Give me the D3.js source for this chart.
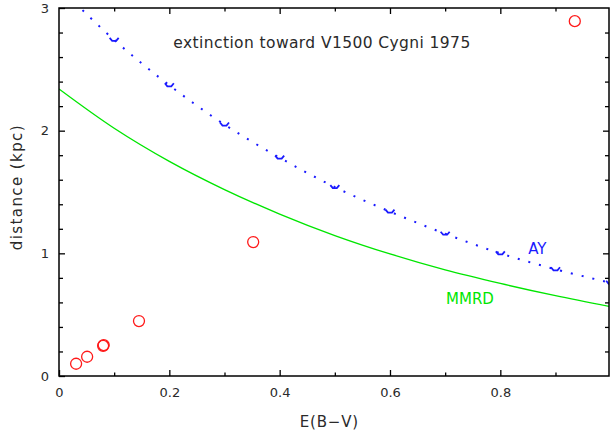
<!DOCTYPE html>
<html>
<head>
<meta charset="utf-8">
<script src="https://cdn.jsdelivr.net/npm/d3@7"></script>
<style>
  body { margin: 0; background: #fff; }
  text { font-family: "DejaVu Sans", sans-serif; fill: #2a2a2a; }
</style>
</head>
<body>
<div id="chart"></div>
<script>
// observed colour excess vs distance (red circles)
var obsEbv  = [0.031, 0.051, 0.080, 0.081, 0.145, 0.352, 0.935];
var obsDist = [0.10, 0.157, 0.246, 0.252, 0.448, 1.092, 2.893];

// AY extinction relation (blue dotted, markers every 0.1)
var ayEbv  = [0, 0.1, 0.2, 0.3, 0.4, 0.5, 0.6, 0.7, 0.8, 0.9, 1.0];
var ayDist = [3.17, 2.74, 2.37, 2.05, 1.78, 1.54, 1.34, 1.16, 1.00, 0.87, 0.76];

// MMRD relation (green)
var mmrdEbv  = [0, 0.1, 0.2, 0.3, 0.4, 0.5, 0.6, 0.7, 0.8, 0.9, 1.0];
var mmrdDist = [2.34, 2.02, 1.75, 1.52, 1.32, 1.145, 0.995, 0.865, 0.755, 0.655, 0.565];

var xMajor = [0, 0.2, 0.4, 0.6, 0.8];
var xMinor = [0.1, 0.3, 0.5, 0.7, 0.9];
var yMajor = [0, 1, 2, 3];
var yMinor = [0.2, 0.4, 0.6, 0.8, 1.2, 1.4, 1.6, 1.8, 2.2, 2.4, 2.6, 2.8];

var margin = {top: 8, right: 1, bottom: 63, left: 59},
    width = 610 - margin.left - margin.right,
    height = 439 - margin.top - margin.bottom;

var svg = d3.select("#chart").append("svg")
    .attr("width", 610)
    .attr("height", 439);

var g = svg.append("g")
    .attr("transform", "translate(" + margin.left + "," + margin.top + ")");

var x = d3.scaleLinear().domain([0, 0.997]).range([0, width]);
var y = d3.scaleLinear().domain([0, 3]).range([height, 0]);

g.append("clipPath").attr("id", "clip")
  .append("rect").attr("width", width).attr("height", height);

var plot = g.append("g").attr("clip-path", "url(#clip)");

// MMRD curve
var mmrd = mmrdEbv.map((e, i) => [e, mmrdDist[i]]);
plot.append("path")
    .datum(mmrd)
    .attr("fill", "none")
    .attr("stroke", "#00e600")
    .attr("stroke-width", 1.4)
    .attr("d", d3.line().x(d => x(d[0])).y(d => y(d[1])).curve(d3.curveCatmullRom));

// AY dotted curve
var ay = ayEbv.map((e, i) => [e, ayDist[i]]);
plot.append("path")
    .datum(ay)
    .attr("fill", "none")
    .attr("stroke", "#1a1aff")
    .attr("stroke-width", 2)
    .attr("stroke-dasharray", "2,9")
    .attr("d", d3.line().x(d => x(d[0])).y(d => y(d[1])).curve(d3.curveCatmullRom));

plot.selectAll(".aymark")
    .data(ay.slice(1))
    .join("path")
    .attr("class", "aymark")
    .attr("transform", d => "translate(" + x(d[0]) + "," + y(d[1]) + ")")
    .attr("d", "M-4.5,-2 L-2,1 L2,1 L4.5,-2")
    .attr("fill", "none")
    .attr("stroke", "#1a1aff")
    .attr("stroke-width", 1.8);

// observations
plot.selectAll("circle")
    .data(obsEbv.map((e, i) => [e, obsDist[i]]))
    .join("circle")
    .attr("cx", d => x(d[0]))
    .attr("cy", d => y(d[1]))
    .attr("r", 5.5)
    .attr("fill", "none")
    .attr("stroke", "#ff1a1a")
    .attr("stroke-width", 1.3);

// curve labels
g.append("text")
    .attr("x", x(0.867)).attr("y", y(0.994))
    .attr("text-anchor", "middle")
    .style("font-size", "15px")
    .style("fill", "#1a1aff")
    .text("AY");
g.append("text")
    .attr("x", x(0.745)).attr("y", y(0.587))
    .attr("text-anchor", "middle")
    .style("font-size", "15px")
    .style("fill", "#00e600")
    .text("MMRD");

// axes: ticks inside on all four sides
function styleAxis(sel) {
  sel.selectAll(".domain").remove();
  sel.selectAll(".tick line").attr("stroke", "#000").attr("stroke-width", 1.3);
  sel.selectAll(".tick text").style("font-size", "13px").style("font-family", "DejaVu Sans").attr("fill", "#2a2a2a");
}

g.append("g").attr("transform", "translate(0," + height + ")")
    .call(d3.axisBottom(x).tickValues(xMajor).tickSize(-6).tickPadding(12)
      .tickFormat(d => d === 0 ? "0" : d3.format(".1f")(d)))
    .call(styleAxis);
g.append("g").attr("transform", "translate(0," + height + ")")
    .call(d3.axisBottom(x).tickValues(xMinor).tickSize(-3.5).tickFormat(""))
    .call(styleAxis);
g.append("g")
    .call(d3.axisTop(x).tickValues(xMajor.slice(1)).tickSize(-6).tickFormat(""))
    .call(styleAxis);
g.append("g")
    .call(d3.axisTop(x).tickValues(xMinor).tickSize(-3.5).tickFormat(""))
    .call(styleAxis);

g.append("g")
    .call(d3.axisLeft(y).tickValues(yMajor).tickSize(-6).tickPadding(10).tickFormat(d3.format("d")))
    .call(styleAxis);
g.append("g")
    .call(d3.axisLeft(y).tickValues(yMinor).tickSize(-4).tickFormat(""))
    .call(styleAxis);
g.append("g").attr("transform", "translate(" + width + ",0)")
    .call(d3.axisRight(y).tickValues(yMajor.slice(1, 3)).tickSize(-6).tickFormat(""))
    .call(styleAxis);
g.append("g").attr("transform", "translate(" + width + ",0)")
    .call(d3.axisRight(y).tickValues(yMinor).tickSize(-4).tickFormat(""))
    .call(styleAxis);

// frame
g.append("rect")
    .attr("width", width).attr("height", height)
    .attr("fill", "none").attr("stroke", "#000").attr("stroke-width", 1.5);

// titles
svg.append("text")
    .attr("x", 322).attr("y", 48)
    .attr("text-anchor", "middle")
    .style("font-size", "15.5px")
    .style("letter-spacing", "0.4px")
    .text("extinction toward V1500 Cygni 1975");

svg.append("text")
    .attr("x", margin.left + x(0.49)).attr("y", 427)
    .attr("text-anchor", "middle")
    .style("font-size", "15px")
    .style("letter-spacing", "0.8px")
    .text("E(B\u2212V)");

svg.append("text")
    .attr("transform", "translate(22," + (margin.top + y(1.54)) + ") rotate(-90)")
    .attr("text-anchor", "middle")
    .style("font-size", "15px")
    .style("letter-spacing", "1.4px")
    .text("distance (kpc)");
</script>
</body>
</html>
